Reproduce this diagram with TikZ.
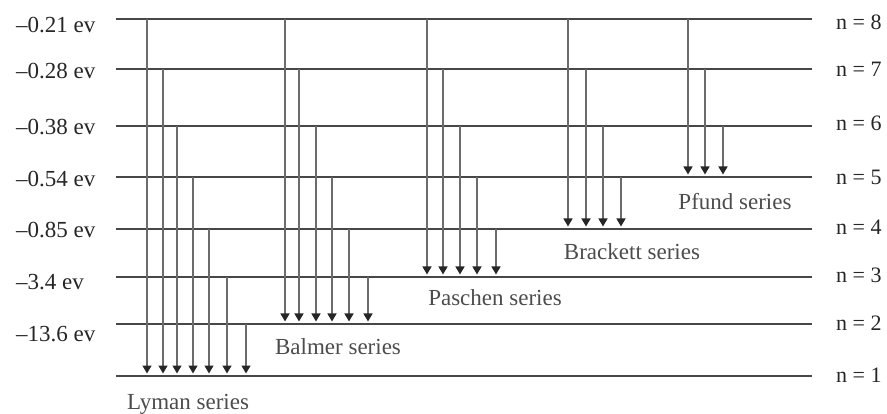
\documentclass[tikz,border=0pt]{standalone}
\usepackage{fontspec}
\setmainfont{Liberation Serif}
\usetikzlibrary{arrows.meta}
\begin{document}
\begin{tikzpicture}[x=1pt,y=-1pt,
  levelline/.style={draw=black!72, line width=2.2pt},
  trans/.style={draw=black!58, line width=1.4pt, -{Triangle[length=8pt,width=9pt,color=black!85,fill=black!85]}},
  elab/.style={anchor=west, font=\fontsize{23}{25}\selectfont, text=black!85, inner sep=0pt},
  nlab/.style={anchor=west, font=\fontsize{22}{24}\selectfont, text=black!85, inner sep=0pt},
  slab/.style={font=\fontsize{23}{25}\selectfont, text=black!70, inner sep=0pt}]
\useasboundingbox (0,0) rectangle (887,414);
% energy levels
\foreach \n/\y in {8/19,7/69,6/126,5/177,4/229,3/277,2/324,1/376}{
  \coordinate (L\n) at (116,\y);
  \coordinate (R\n) at (812,\y);
  \draw[levelline] (L\n) -- (R\n);
}
% energy labels
\foreach \nm/\t/\y in {e8/{–0.21 ev}/25, e7/{–0.28 ev}/71, e6/{–0.38 ev}/127, e5/{–0.54 ev}/179,
                       e4/{–0.85 ev}/230, e3/{–3.4 ev}/282, e2/{–13.6 ev}/334}{
  \node[elab] (\nm) at (16,\y) {\t};
}
% quantum number labels
\foreach \n/\y in {8/22,7/69,6/123,5/177,4/227,3/275,2/323,1/375}{
  \node[nlab] (q\n) at (836,\y) {n = \n};
}
% transitions
\foreach \x/\ys/\ye in {147/19/376,163/69/376,177/126/376,193/177/376,209/229/376,227/277/376,246/324/376,
                        285/19/324,299/69/324,316/126/324,332/177/324,349/229/324,368/277/324,
                        427/19/277,443/69/277,460/126/277,477/177/277,496/229/277,
                        568/19/229,586/69/229,603/126/229,621/177/229,
                        688/19/177,705/69/177,723/126/177}{
  \coordinate (a\x) at (\x,\ys);
  \coordinate (b\x) at (\x,\ye-2.5);
  \draw[trans] (a\x) -- (b\x);
}
% series labels
\node[slab] (lyman) at (188,404) {Lyman series};
\node[slab] (balmer) at (338,347) {Balmer series};
\node[slab] (paschen) at (495,298) {Paschen series};
\node[slab] (brackett) at (632,252) {Brackett series};
\node[slab] (pfund) at (735,202) {Pfund series};
\end{tikzpicture}
\end{document}
